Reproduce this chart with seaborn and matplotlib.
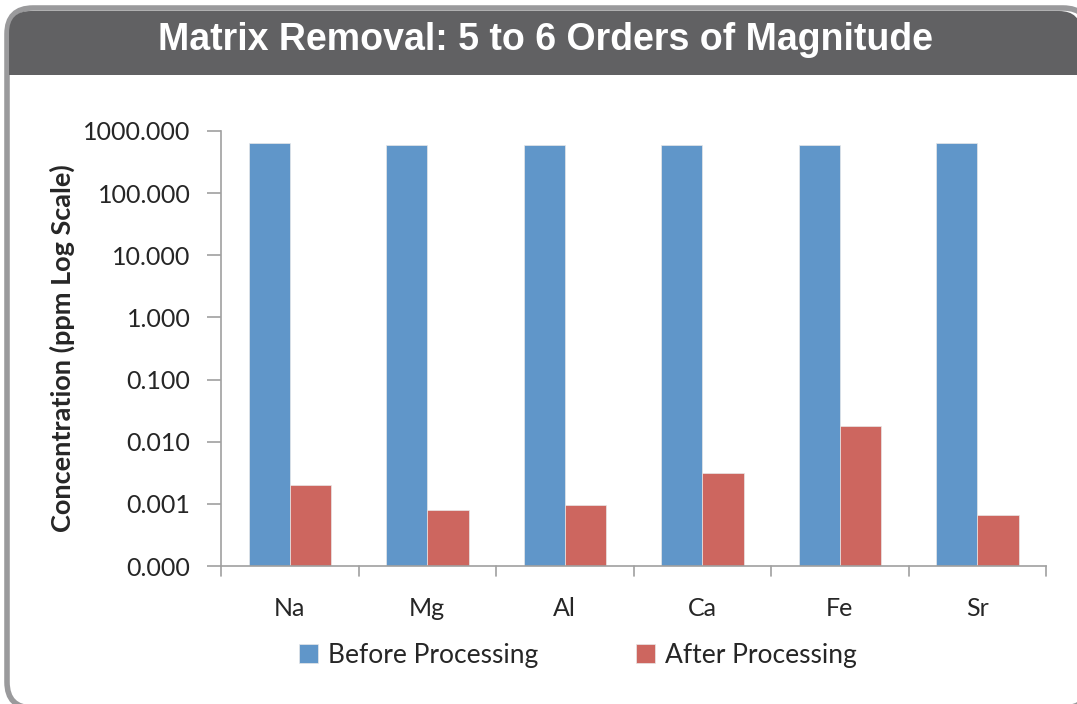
import numpy as np
import pandas as pd
import seaborn as sns
import matplotlib.pyplot as plt
import matplotlib.transforms as mtransforms
from matplotlib.patches import FancyBboxPatch, Rectangle

# data
elements = ['Na', 'Mg', 'Al', 'Ca', 'Fe', 'Sr']
before = [645, 595, 600, 598, 597, 648]
after = [0.00202, 0.00080, 0.00096, 0.00316, 0.0181, 0.00066]
series = ['Before Processing', 'After Processing']
yticks = [1e-4, 1e-3, 1e-2, 1e-1, 1, 10, 100, 1000]
ytick_labels = ['0.000', '0.001', '0.010', '0.100', '1.000', '10.000', '100.000', '1000.000']
title = 'Matrix Removal: 5 to 6 Orders of Magnitude'

df = pd.DataFrame({
    'Element': elements * 2,
    'Series': [series[0]] * len(elements) + [series[1]] * len(elements),
    'Value': before + after,
})

sns.set_style('white')
plt.rcParams['font.family'] = ['Lato', 'DejaVu Sans']

fig = plt.figure(figsize=(10.77, 7.04), dpi=100)
W, H = 1077, 704
# pixel coordinates, origin bottom left
px = mtransforms.Affine2D().scale(1 / 100) + fig.dpi_scale_trans

# frame and title bar
fig.patches.append(FancyBboxPatch((7, -4), 1082, H - 8 + 4,
                                  boxstyle='round,pad=0,rounding_size=26',
                                  transform=px, facecolor='white',
                                  edgecolor='#9a9a9c', linewidth=4, zorder=-3))
fig.patches.append(FancyBboxPatch((9, H - 75), 1072, 64,
                                  boxstyle='round,pad=0,rounding_size=22',
                                  transform=px, facecolor='#616163',
                                  edgecolor='none', zorder=-2))
fig.patches.append(Rectangle((9, H - 75), 1072, 30, transform=px,
                             facecolor='#616163', edgecolor='none', zorder=-2))
fig.text(546 / W, 1 - 40 / H, title, ha='center', va='center', color='white',
         fontsize=27, fontweight='bold', family='Liberation Sans', zorder=2)

ax = fig.add_axes([221 / W, 1 - 566 / H, (1046 - 221) / W, (566 - 131) / H])
ax.set_zorder(1)
sns.barplot(data=df, x='Element', y='Value', hue='Series', ax=ax,
            palette=['#6096C9', '#CD665F'], width=0.6, gap=0,
            edgecolor='#e8e8e8', linewidth=0.5, saturation=1)
ax.set_yscale('log')
ax.set_ylim(1e-4, 1e3)
ax.set_xlim(-0.5, len(elements) - 0.5)
ax.set_yticks(yticks)
ax.set_yticklabels(ytick_labels)
ax.minorticks_off()
ax.set_xticks(np.arange(len(elements)))
ax.set_xticklabels(elements)
ax.tick_params(axis='x', length=0, labelsize=18, pad=22)
ax.tick_params(axis='y', length=10, width=1.2, color='#a0a0a0', direction='out',
               labelsize=18, pad=12, left=True)
for xb in np.arange(-0.5, len(elements) - 0.4, 1.0):
    ax.plot([xb, xb], [0, -0.022], transform=ax.get_xaxis_transform(),
            color='#a0a0a0', lw=1.2, clip_on=False)
ax.set_xlabel('')
ax.set_ylabel('Concentration (ppm Log Scale)', fontsize=19.5, fontweight='bold', labelpad=6)
sns.despine(ax=ax)
for s in ['left', 'bottom']:
    ax.spines[s].set_color('#a0a0a0')
    ax.spines[s].set_linewidth(1.2)

handles, labels = ax.get_legend_handles_labels()
ax.legend(handles, labels, loc='center', bbox_to_anchor=(0.433, -0.205),
          ncol=2, frameon=False, fontsize=19, handlelength=0.7, handleheight=0.7,
          handletextpad=0.4, columnspacing=3.7)

fig.savefig('out.png', dpi=100)
